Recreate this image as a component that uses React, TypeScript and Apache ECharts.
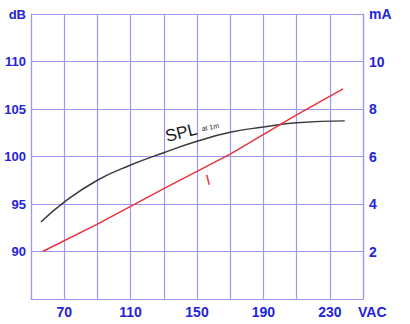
import React, { useEffect, useRef } from "react";
import * as echarts from "echarts";

const vacTicks = [70, 110, 150, 190, 230];
const dbTicks = [90, 95, 100, 105, 110];
const maTicks = [2, 4, 6, 8, 10];

const splVac = [56, 70, 90, 110, 130, 150, 170, 190, 210, 239];
const splDb = [93.1, 95.2, 97.5, 99.1, 100.4, 101.6, 102.55, 103.1, 103.55, 103.75];

const iVac = [57, 90, 130, 170, 210, 238];
const iMa = [2.0, 3.15, 4.65, 6.1, 7.75, 8.85];

const LABEL = "#2323d9";
const GRID = "#9a9af5";
const FONT = "'Liberation Sans', Arial, sans-serif";

export default function App() {
  const ref = useRef<HTMLDivElement>(null);
  useEffect(() => {
    if (!ref.current) return;
    const chart = echarts.init(ref.current, null, { renderer: "svg" });
    const axisLabelBase = { color: LABEL, fontSize: 13, fontWeight: "bold" as const, fontFamily: FONT };
    chart.setOption({
      animation: false,
      backgroundColor: "#ffffff",
      grid: { left: 31, right: 47, top: 14, bottom: 25 },
      xAxis: {
        type: "value",
        min: 50,
        max: 250,
        interval: 20,
        axisLine: { lineStyle: { color: GRID, width: 1.2 } },
        axisTick: { show: false },
        splitLine: { show: true, lineStyle: { color: GRID, width: 1.2 } },
        axisLabel: {
          ...axisLabelBase,
          fontSize: 14,
          margin: 6,
          formatter: (v: number) => (vacTicks.includes(v) ? String(v) : ""),
        },
        name: "VAC",
        nameLocation: "end",
        nameGap: -5,
        nameTextStyle: { ...axisLabelBase, fontSize: 14, align: "left", verticalAlign: "top", padding: [6, 0, 0, 0] },
      },
      yAxis: [
        {
          type: "value",
          min: 85,
          max: 115,
          interval: 5,
          axisLine: { show: true, lineStyle: { color: GRID, width: 1.2 } },
          axisTick: { show: false },
          splitLine: { show: true, lineStyle: { color: GRID, width: 1.2 } },
          axisLabel: {
            ...axisLabelBase,
            margin: 5,
            formatter: (v: number) => (v === 115 ? "dB" : dbTicks.includes(v) ? String(v) : ""),
          },
        },
        {
          type: "value",
          min: 0,
          max: 12,
          interval: 2,
          position: "right",
          axisLine: { show: true, lineStyle: { color: GRID, width: 1.2 } },
          axisTick: { show: false },
          splitLine: { show: false },
          axisLabel: {
            ...axisLabelBase,
            fontSize: 14,
            margin: 6,
            formatter: (v: number) => (v === 12 ? "mA" : maTicks.includes(v) ? String(v) : ""),
          },
        },
      ],
      series: [
        {
          name: "SPL",
          type: "line",
          yAxisIndex: 0,
          smooth: true,
          symbol: "none",
          lineStyle: { color: "#3a3a3a", width: 1.5 },
          data: splVac.map((x, i) => [x, splDb[i]]),
        },
        {
          name: "I",
          type: "line",
          yAxisIndex: 1,
          smooth: false,
          symbol: "none",
          lineStyle: { color: "#e8323c", width: 1.5 },
          data: iVac.map((x, i) => [x, iMa[i]]),
        },
      ],
    });
    const splPos = chart.convertToPixel({ xAxisIndex: 0, yAxisIndex: 0 }, [140.5, 102.5]) as number[];
    const subPos = chart.convertToPixel({ xAxisIndex: 0, yAxisIndex: 0 }, [158, 103.1]) as number[];
    const iPos = chart.convertToPixel({ xAxisIndex: 0, yAxisIndex: 0 }, [156.6, 97.6]) as number[];
    chart.setOption({
      graphic: [
        {
          type: "text",
          x: splPos[0],
          y: splPos[1],
          rotation: (14 * Math.PI) / 180,
          style: {
            text: "SPL",
            fill: "#1a1a1a",
            font: `17px ${FONT}`,
            align: "center",
            verticalAlign: "middle",
          },
        },
        {
          type: "text",
          x: subPos[0],
          y: subPos[1],
          rotation: (12 * Math.PI) / 180,
          style: {
            text: "at 1m",
            fill: "#1a1a1a",
            font: `7px ${FONT}`,
            align: "center",
            verticalAlign: "middle",
          },
        },
        {
          type: "text",
          x: iPos[0],
          y: iPos[1],
          rotation: (14 * Math.PI) / 180,
          style: {
            text: "I",
            fill: "#e8323c",
            font: `15px ${FONT}`,
            align: "center",
            verticalAlign: "middle",
          },
        },
      ],
    });
    return () => chart.dispose();
  }, []);
  return <div ref={ref} style={{ position: "absolute", left: 0, top: 0, width: 410, height: 324 }} />;
}
